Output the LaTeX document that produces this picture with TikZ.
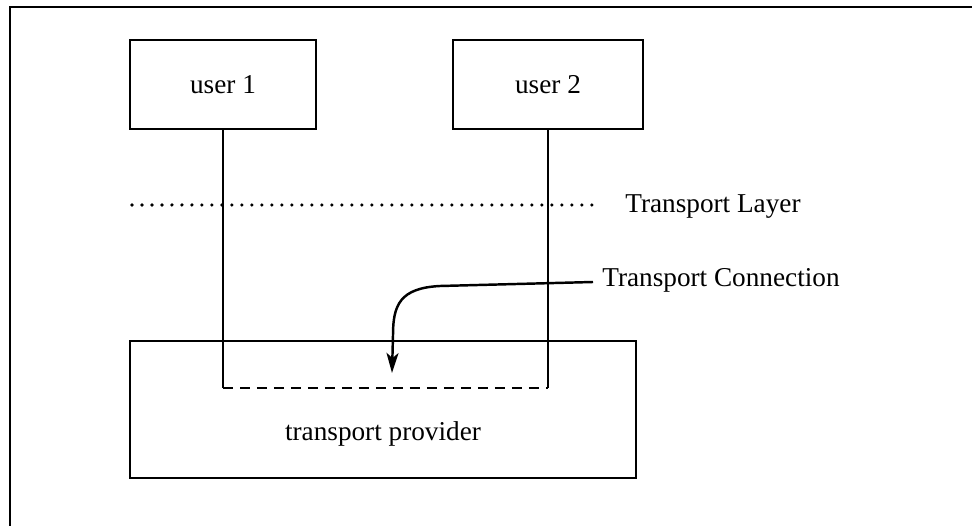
\documentclass[tikz,border=0pt]{standalone}
\usepackage{fontspec}
\setmainfont{Liberation Serif}
\usetikzlibrary{arrows.meta}
\tikzset{
	box/.style={draw, line width=1.4pt, inner sep=0pt},
	wire/.style={line width=1.4pt},
	dotline/.style={line width=2pt, line cap=round, dash pattern=on 0pt off 0.2cm},
	dashline/.style={line width=1.4pt, dash pattern=on 0.2cm off 0.14cm},
}

\begin{document}
\begin{tikzpicture}[x=0.02cm, y=-0.02cm, font=\fontsize{15.5}{18}\selectfont]
		%%%%% START %%%%%
		\useasboundingbox (0,0) rectangle (972,526);
		
		% frame
		\draw[line width=1.2pt] (10,526) -- (10,7) -- (972,7);
		
		% users and provider
		\node[box, minimum width=3.72cm, minimum height=1.78cm] (user1) at (223,84.5) {user 1};
		\node[box, minimum width=3.8cm, minimum height=1.78cm] (user2) at (548,84.5) {user 2};
		\node[box, minimum width=10.12cm, minimum height=2.74cm] (provider) at (383,409.5) {};
		\node[anchor=base] (provtext) at (383,440) {transport provider};
		
		% the connection
		\coordinate (join1) at (223,388);
		\coordinate (join2) at (548,388);
		\draw[wire] (user1.south) -- (join1);
		\draw[wire] (user2.south) -- (join2);
		\draw[dashline] (join1) -- (join2);
		
		% layer line
		\node[anchor=base west, inner sep=0pt] (layer) at (625,213) {Transport Layer};
		\coordinate (layerL) at (132,205);
		\coordinate (layerR) at (595,205);
		\draw[dotline] (layerL) -- (layerR);
		
		% label and arrow
		\node[anchor=base west, inner sep=0pt] (conn) at (602,287) {Transport Connection};
		\coordinate (connstart) at (593,282);
		\coordinate (arrtip) at (392,373);
		\draw[wire, -{Stealth[length=0.4cm, width=0.24cm, inset=0.1cm]}] (connstart) -- (440,286) .. controls (400,288) and (393,305) .. (393,335) -- (arrtip);
		
		%%%%% END %%%%%
\end{tikzpicture}
\end{document}
